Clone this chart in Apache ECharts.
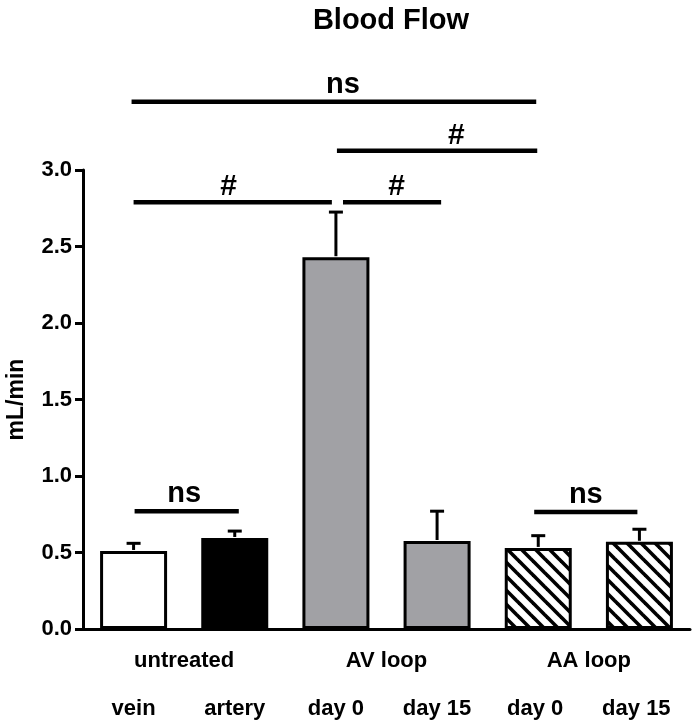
<!DOCTYPE html>
<html>
<head>
<meta charset="utf-8">
<script src="https://cdn.jsdelivr.net/npm/echarts@6/dist/echarts.min.js"></script>
<style>html,body{margin:0;padding:0;background:#fff;}#c{width:694px;height:727px;}</style>
</head>
<body>
<div id="c"></div>
<script>
// ---- data ----
const categories = ['vein', 'artery', 'day 0', 'day 15', 'day 0 ', 'day 15 '];
const groups = ['untreated', 'AV loop', 'AA loop'];
const means = [0.51, 0.595, 2.43, 0.575, 0.53, 0.57];
const upper = [0.56, 0.64, 2.725, 0.77, 0.61, 0.652];
const yTicks = [0, 0.5, 1.0, 1.5, 2.0, 2.5, 3.0];
// significance brackets: [fromIndex, toIndex, level, labelIndex]
const brackets = [
  [-0.02, 3.98, 3.446, 2.07],
  [2.01, 3.99, 3.126, 3.19],
  [0.0, 1.96, 2.79, 0.94],
  [2.07, 3.04, 2.79, 2.6],
  [0.01, 1.04, 0.77, 0.5],
  [3.96, 4.98, 0.765, 4.47]
];
const bracketLabels = ['ns', '#', '#', '#', 'ns', 'ns'];

const FONT = "'Liberation Sans', Arial, Helvetica, sans-serif";

// hatch pattern for AA loop bars
function hatch() {
  const s = 14;
  const c = document.createElement('canvas');
  c.width = s; c.height = s;
  const g = c.getContext('2d');
  g.fillStyle = '#fff'; g.fillRect(0, 0, s, s);
  g.strokeStyle = '#000'; g.lineWidth = 3.6;
  [[0, 0], [s, 0], [-s, 0]].forEach(function (o) {
    g.beginPath();
    g.moveTo(o[0] - 2, o[1] - 2);
    g.lineTo(o[0] + s + 2, o[1] + s + 2);
    g.stroke();
  });
  return c;
}
const hatchImg = hatch();
const barColors = ['#ffffff', '#000000', '#a1a1a5', '#a1a1a5', {image: hatchImg, repeat: 'repeat'}, {image: hatchImg, repeat: 'repeat'}];

const chart = echarts.init(document.getElementById('c'), null, {renderer: 'canvas'});
chart.setOption({
  animation: false,
  backgroundColor: '#fff',
  title: {
    text: 'Blood Flow',
    left: 386,
    textAlign: 'center',
    top: 1,
    textStyle: {fontFamily: FONT, fontWeight: 'bold', fontSize: 29, color: '#000'}
  },
  grid: {left: 83, right: 4, top: 170, bottom: 98, containLabel: false, outerBoundsMode: 'none'},
  xAxis: [
    {
      type: 'category', data: categories, position: 'bottom',
      axisLine: {lineStyle: {color: '#000', width: 3}},
      axisTick: {show: false},
      axisLabel: {margin: 69, color: '#000', fontFamily: FONT, fontWeight: 'bold', fontSize: 22, interval: 0}
    },
    {
      type: 'category', data: groups, position: 'bottom',
      axisLine: {show: false}, axisTick: {show: false},
      axisLabel: {margin: 21, color: '#000', fontFamily: FONT, fontWeight: 'bold', fontSize: 22, interval: 0}
    },
    {
      type: 'value', min: -0.5, max: 5.5, show: false
    }
  ],
  yAxis: {
    type: 'value', min: 0, max: 3, interval: 0.5,
    name: 'mL/min', nameLocation: 'middle', nameGap: 55,
    nameTextStyle: {fontFamily: FONT, fontWeight: 'bold', fontSize: 23, color: '#000'},
    axisLine: {show: true, onZero: false, lineStyle: {color: '#000', width: 3}},
    axisTick: {show: true, length: 8, lineStyle: {color: '#000', width: 3}},
    splitLine: {show: false},
    axisLabel: {
      margin: 11, color: '#000', fontFamily: FONT, fontWeight: 'bold', fontSize: 22,
      formatter: function (v) { return v.toFixed(1); }
    }
  },
  series: [
    {
      type: 'bar', xAxisIndex: 0, barWidth: 67,
      data: means.map(function (v, i) {
        return {value: v, itemStyle: {color: barColors[i], borderColor: '#000', borderWidth: 3}};
      }),
      z: 2
    },
    {
      type: 'custom', xAxisIndex: 0, z: 3,
      data: means.map(function (m, i) { return [i, m, upper[i]]; }),
      renderItem: function (params, api) {
        const p0 = api.coord([api.value(0), api.value(1)]);
        const p1 = api.coord([api.value(0), api.value(2)]);
        return {type: 'group', children: [
          {type: 'line', shape: {x1: p0[0], y1: p0[1] - 1, x2: p1[0], y2: p1[1]}, style: {stroke: '#000', lineWidth: 3}},
          {type: 'line', shape: {x1: p1[0] - 7, y1: p1[1], x2: p1[0] + 7, y2: p1[1]}, style: {stroke: '#000', lineWidth: 3}}
        ]};
      }
    },
    {
      type: 'custom', xAxisIndex: 2, yAxisIndex: 0, z: 4, clip: false,
      data: brackets,
      renderItem: function (params, api) {
        const a = api.coord([api.value(0), api.value(2)]);
        const b = api.coord([api.value(1), api.value(2)]);
        const t = api.coord([api.value(3), api.value(2)]);
        const lab = bracketLabels[params.dataIndex];
        const isHash = lab === '#';
        return {type: 'group', children: [
          {type: 'line', shape: {x1: a[0], y1: a[1], x2: b[0], y2: b[1]}, style: {stroke: '#000', lineWidth: 4.5}},
          {type: 'text', x: t[0], y: a[1] - (isHash ? 15 : 17),
            style: {text: lab, fill: '#000', font: 'bold ' + (isHash ? 30 : 29) + 'px ' + FONT, align: 'center', verticalAlign: 'middle'}}
        ]};
      }
    }
  ]
});
</script>
</body>
</html>
